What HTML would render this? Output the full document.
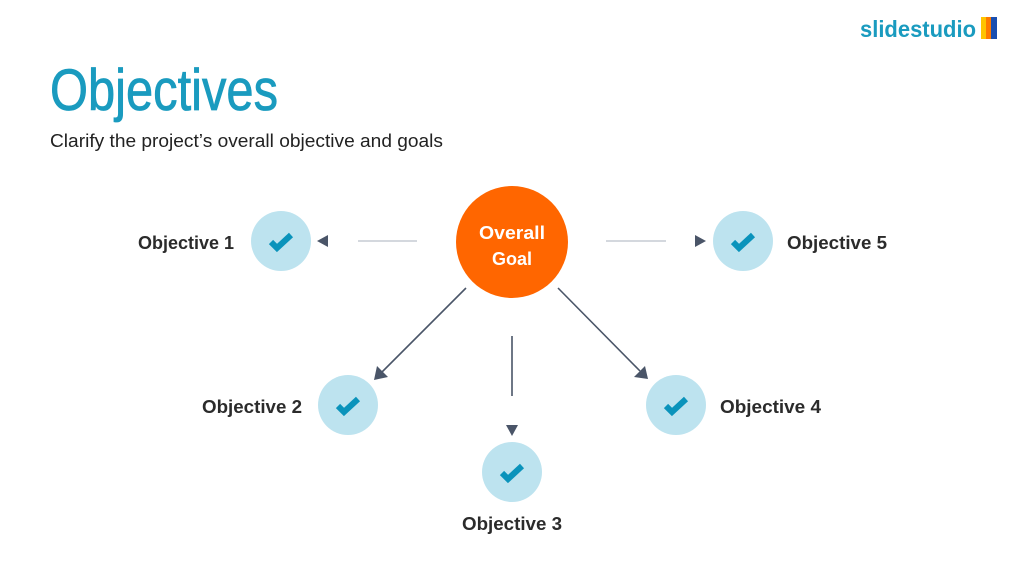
<!DOCTYPE html>
<html><head><meta charset="utf-8"><style>
html,body{margin:0;padding:0;background:#fff;width:1024px;height:576px;overflow:hidden}
</style></head><body>
<svg width="1024" height="576" viewBox="0 0 1024 576" xmlns="http://www.w3.org/2000/svg" font-family="Liberation Sans, sans-serif">
<text x="860" y="37" font-size="23" font-weight="bold" fill="#1a9bbf" textLength="116" lengthAdjust="spacingAndGlyphs">slidestudio</text>
<rect x="981" y="17" width="6" height="22" fill="#ffc400"/>
<rect x="986" y="17" width="5" height="22" fill="#ff7a00"/>
<rect x="991" y="17" width="6" height="22" fill="#1a4fb0"/>
<text x="50" y="110" font-size="58" fill="#1a9bbf" stroke="#1a9bbf" stroke-width="0.8" textLength="228" lengthAdjust="spacingAndGlyphs">Objectives</text>
<text x="50" y="147" font-size="18" fill="#222" textLength="393" lengthAdjust="spacingAndGlyphs">Clarify the project’s overall objective and goals</text>
<g stroke="#c5cbd3" stroke-width="1.5">
<line x1="358" y1="241" x2="417" y2="241"/>
<line x1="606" y1="241" x2="666" y2="241"/>
</g>
<g stroke="#4a5568" stroke-width="1.6">
<line x1="466" y1="288" x2="382" y2="372"/>
<line x1="558" y1="288" x2="640" y2="371"/>
<line x1="512" y1="336" x2="512" y2="396"/>
</g>
<g fill="#4a5568">
<polygon points="317,241 328,235 328,247"/>
<polygon points="706,241 695,235 695,247"/>
<polygon points="506,425 518,425 512,436"/>
<polygon points="374,380 377,366 388,377"/>
<polygon points="648,379 634,377 645,366"/>
</g>
<circle cx="512" cy="242" r="56" fill="#ff6600"/>
<text x="512" y="239" font-size="18" font-weight="bold" fill="#fff" text-anchor="middle" textLength="66" lengthAdjust="spacingAndGlyphs">Overall</text>
<text x="512" y="265" font-size="18" font-weight="bold" fill="#fff" text-anchor="middle">Goal</text>
<g fill="#bde3ef">
<circle cx="281" cy="241" r="30"/>
<circle cx="743" cy="241" r="30"/>
<circle cx="348" cy="405" r="30"/>
<circle cx="676" cy="405" r="30"/>
<circle cx="512" cy="472" r="30"/>
</g>
<defs><path id="ck" d="M-10,0 L-4,6 L10,-7" fill="none" stroke="#0a93bb" stroke-width="6" stroke-linejoin="miter"/></defs>
<use href="#ck" x="281" y="242"/>
<use href="#ck" x="743" y="242"/>
<use href="#ck" x="348" y="406"/>
<use href="#ck" x="676" y="406"/>
<use href="#ck" x="512" y="473"/>
<g font-size="18" font-weight="bold" fill="#2b2b2b">
<text x="138" y="249" textLength="96" lengthAdjust="spacingAndGlyphs">Objective 1</text>
<text x="787" y="249" textLength="100" lengthAdjust="spacingAndGlyphs">Objective 5</text>
<text x="202" y="413" textLength="100" lengthAdjust="spacingAndGlyphs">Objective 2</text>
<text x="720" y="413" textLength="101" lengthAdjust="spacingAndGlyphs">Objective 4</text>
<text x="462" y="530" textLength="100" lengthAdjust="spacingAndGlyphs">Objective 3</text>
</g>
</svg>
</body></html>
